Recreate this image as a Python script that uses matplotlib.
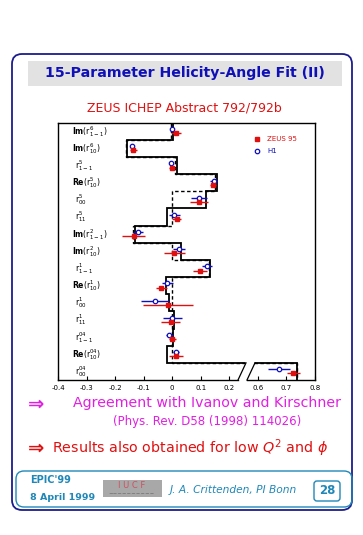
import numpy as np
import matplotlib
matplotlib.use("Agg")
import matplotlib.pyplot as plt
from matplotlib.patches import FancyBboxPatch, Rectangle, Polygon
from matplotlib.lines import Line2D

plt.rcParams["font.family"] = ["DejaVu Sans"]
plt.rcParams["mathtext.fontset"] = "dejavusans"

# spin density matrix elements, top to bottom
params = [
    r"$\mathbf{Im}(\mathrm{r}^{6}_{1-1})$",
    r"$\mathbf{Im}(\mathrm{r}^{6}_{10})$",
    r"$\mathrm{r}^{5}_{1-1}$",
    r"$\mathbf{Re}(\mathrm{r}^{5}_{10})$",
    r"$\mathrm{r}^{5}_{00}$",
    r"$\mathrm{r}^{5}_{11}$",
    r"$\mathbf{Im}(\mathrm{r}^{2}_{1-1})$",
    r"$\mathbf{Im}(\mathrm{r}^{2}_{10})$",
    r"$\mathrm{r}^{1}_{1-1}$",
    r"$\mathbf{Re}(\mathrm{r}^{1}_{10})$",
    r"$\mathrm{r}^{1}_{00}$",
    r"$\mathrm{r}^{1}_{11}$",
    r"$\mathrm{r}^{04}_{1-1}$",
    r"$\mathbf{Re}(\mathrm{r}^{04}_{10})$",
    r"$\mathrm{r}^{04}_{00}$",
]

zeus = [0.013, -0.136, -0.002, 0.143, 0.094, 0.015, -0.135, 0.007,
        0.097, -0.038, -0.014, -0.006, 0.000, 0.013, 0.724]
zeus_err = [0.016, 0.013, 0.010, 0.012, 0.030, 0.016, 0.040, 0.036,
            0.024, 0.020, 0.088, 0.032, 0.012, 0.024, 0.022]
h1 = [0.000, -0.141, -0.006, 0.145, 0.093, 0.007, -0.120, 0.023,
      0.122, -0.017, -0.060, 0.000, -0.010, 0.013, 0.675]
h1_err = [0.006, 0.005, 0.006, 0.012, 0.028, 0.020, 0.019, 0.022,
          0.016, 0.018, 0.050, 0.033, 0.013, 0.012, 0.039]

# model curves drawn as steps
model_solid = [0.003, -0.157, 0.017, 0.157, 0.120, -0.017, -0.130, 0.029,
               0.133, -0.023, -0.010, 0.006, 0.003, -0.017, 0.737]
model_dashed = [-0.005, -0.162, 0.010, 0.151, 0.000, 0.000, -0.139, 0.000,
                0.128, 0.000, 0.000, 0.000, 0.000, 0.000, 0.737]

xticks = [-0.4, -0.3, -0.2, -0.1, 0.0, 0.1, 0.2, 0.6, 0.7, 0.8]
xticklabels = ["-0.4", "-0.3", "-0.2", "-0.1", "0", "0.1", "0.2", "0.6", "0.7", "0.8"]

RED = "#e01010"
BLUE = "#1010b8"
MAGENTA = "#e020e0"
TEAL = "#2088b8"
NAVY = "#1c1c8c"


def fwd(x):
    x = np.asarray(x, dtype=float)
    return np.where(x <= 0.25, x, np.where(x >= 0.55, x - 0.3, 0.25))


def inv(y):
    y = np.asarray(y, dtype=float)
    return np.where(y <= 0.25, y, y + 0.3)


fig = plt.figure(figsize=(3.63, 5.35), dpi=100)

# page decoration in pixel coordinates
bg = fig.add_axes([0, 0, 1, 1])
bg.set_xlim(0, 363)
bg.set_ylim(535, 0)
bg.axis("off")

bg.add_patch(FancyBboxPatch((12, 54), 340, 456, boxstyle="round,pad=0,rounding_size=10",
                            fc="none", ec=NAVY, lw=1.3))
bg.add_patch(Rectangle((28, 61), 314, 25, fc="#e2e2e2", ec="none"))
bg.text(185, 73.5, "15-Parameter Helicity-Angle Fit (II)", color=BLUE, fontsize=10.2,
        fontweight="bold", ha="center", va="center")
bg.text(184, 108, "ZEUS ICHEP Abstract 792/792b", color=RED, fontsize=9,
        ha="center", va="center")

bg.text(36, 404, "\u21d2", color=MAGENTA, fontsize=14, fontweight="bold",
        ha="center", va="center")
bg.text(207, 403, "Agreement with Ivanov and Kirschner", color=MAGENTA, fontsize=10.2,
        ha="center", va="center")
bg.text(207, 422, "(Phys. Rev. D58 (1998) 114026)", color=MAGENTA, fontsize=8.5,
        ha="center", va="center")
bg.text(36, 448, "\u21d2", color=RED, fontsize=14, fontweight="bold",
        ha="center", va="center")
bg.text(52, 448, r"Results also obtained for low $Q^2$ and $\phi$", color=RED,
        fontsize=10.3, ha="left", va="center")

bg.add_patch(FancyBboxPatch((16, 471), 336, 36, boxstyle="round,pad=0,rounding_size=8",
                            fc="none", ec=TEAL, lw=1.0))
bg.text(30, 480, "EPIC'99", color=TEAL, fontsize=7, fontweight="bold",
        ha="left", va="center")
bg.text(30, 497, "8 April 1999", color=TEAL, fontsize=6.8, fontweight="bold",
        ha="left", va="center")
bg.add_patch(Rectangle((103, 480), 59, 17, fc="#a8a8a8", ec="none"))
bg.text(132, 486, "I U C F", color="#d05060", fontsize=6, ha="center", va="center")
bg.text(132, 494, "~~~~~~~~~~", color="#505050", fontsize=4, ha="center", va="center")
bg.text(170, 490, "J. A. Crittenden, PI Bonn", color=TEAL, fontsize=7.7,
        style="italic", ha="left", va="center")
bg.add_patch(FancyBboxPatch((314, 481), 26, 20, boxstyle="round,pad=0,rounding_size=3",
                            fc="none", ec=TEAL, lw=1.0))
bg.text(327, 491, "28", color=TEAL, fontsize=8.5, fontweight="bold",
        ha="center", va="center")

# main chart
ax = fig.add_axes([58 / 363, 1 - 380 / 535, 257 / 363, 257.3 / 535])
ax.set_xscale("function", functions=(fwd, inv))
ax.set_xlim(-0.4, 0.8)
ax.set_ylim(len(params), 0)

rows = np.arange(len(params)) + 0.5
edges = np.arange(len(params) + 1)

ax.stairs(model_solid, edges, orientation="horizontal", baseline=None,
          color="black", lw=1.3, zorder=2)
ax.stairs(model_dashed, edges, orientation="horizontal", baseline=None,
          color="black", lw=1.0, ls=(0, (2.5, 1.8)), zorder=2)

ax.errorbar(h1, rows - 0.13, xerr=h1_err, fmt="none", ecolor=BLUE, elinewidth=1.0,
            capsize=0, zorder=3)
ax.errorbar(zeus, rows + 0.12, xerr=zeus_err, fmt="none", ecolor=RED, elinewidth=1.0,
            capsize=0, zorder=3)
ax.plot(h1, rows - 0.13, ls="none", marker="o", ms=3.2, mfc="white", mec=BLUE,
        mew=0.9, zorder=4)
ax.plot(zeus, rows + 0.12, ls="none", marker="s", ms=3.0, mfc=RED, mec=RED, zorder=4)

for i, lab in enumerate(params):
    xpos = 0.054 if lab.startswith(r"$\mathbf") else 0.066
    ax.text(xpos, rows[i], lab, transform=ax.get_yaxis_transform(), fontsize=5.6,
            ha="left", va="center", color="black")

# legend
ax.plot([0.773], [0.937], transform=ax.transAxes, marker="s", ms=3.0, color=RED, ls="none")
ax.text(0.815, 0.937, "ZEUS 95", transform=ax.transAxes, color=RED, fontsize=5,
        ha="left", va="center")
ax.plot([0.773], [0.89], transform=ax.transAxes, marker="o", ms=3.2, mfc="white",
        mec=BLUE, mew=0.9, ls="none")
ax.text(0.815, 0.89, "H1", transform=ax.transAxes, color=BLUE, fontsize=5,
        ha="left", va="center")

# axis break on the bottom row
b0, b1, b2, b3 = (238 - 58) / 257, (246 - 58) / 257, (247 - 58) / 257, (255 - 58) / 257
top = 1 / len(params)
ax.add_patch(Polygon([(b0, -0.01), (b1, top + 0.006), (b3, top + 0.006), (b2, -0.01)],
                     closed=True, transform=ax.transAxes, fc="white", ec="none",
                     zorder=5, clip_on=False))
for xa, xb in [(b0, b1), (b2, b3)]:
    ax.add_line(Line2D([xa, xb], [0, top], transform=ax.transAxes, color="black",
                       lw=0.9, zorder=6, clip_on=False))

ax.spines["bottom"].set_visible(False)
ax.add_line(Line2D([0, b0], [0, 0], transform=ax.transAxes, color="black", lw=1.0,
                   clip_on=False, zorder=6))
ax.add_line(Line2D([b2, 1], [0, 0], transform=ax.transAxes, color="black", lw=1.0,
                   clip_on=False, zorder=6))
for side in ["top", "left", "right"]:
    ax.spines[side].set_linewidth(1.0)

ax.set_xticks(xticks, xticklabels)
ax.xaxis.set_minor_locator(matplotlib.ticker.NullLocator())
ax.tick_params(axis="x", direction="in", length=3, width=0.8, labelsize=5, pad=3.5)
ax.tick_params(axis="y", left=False, labelleft=False)

fig.savefig("out.png", dpi=100)
